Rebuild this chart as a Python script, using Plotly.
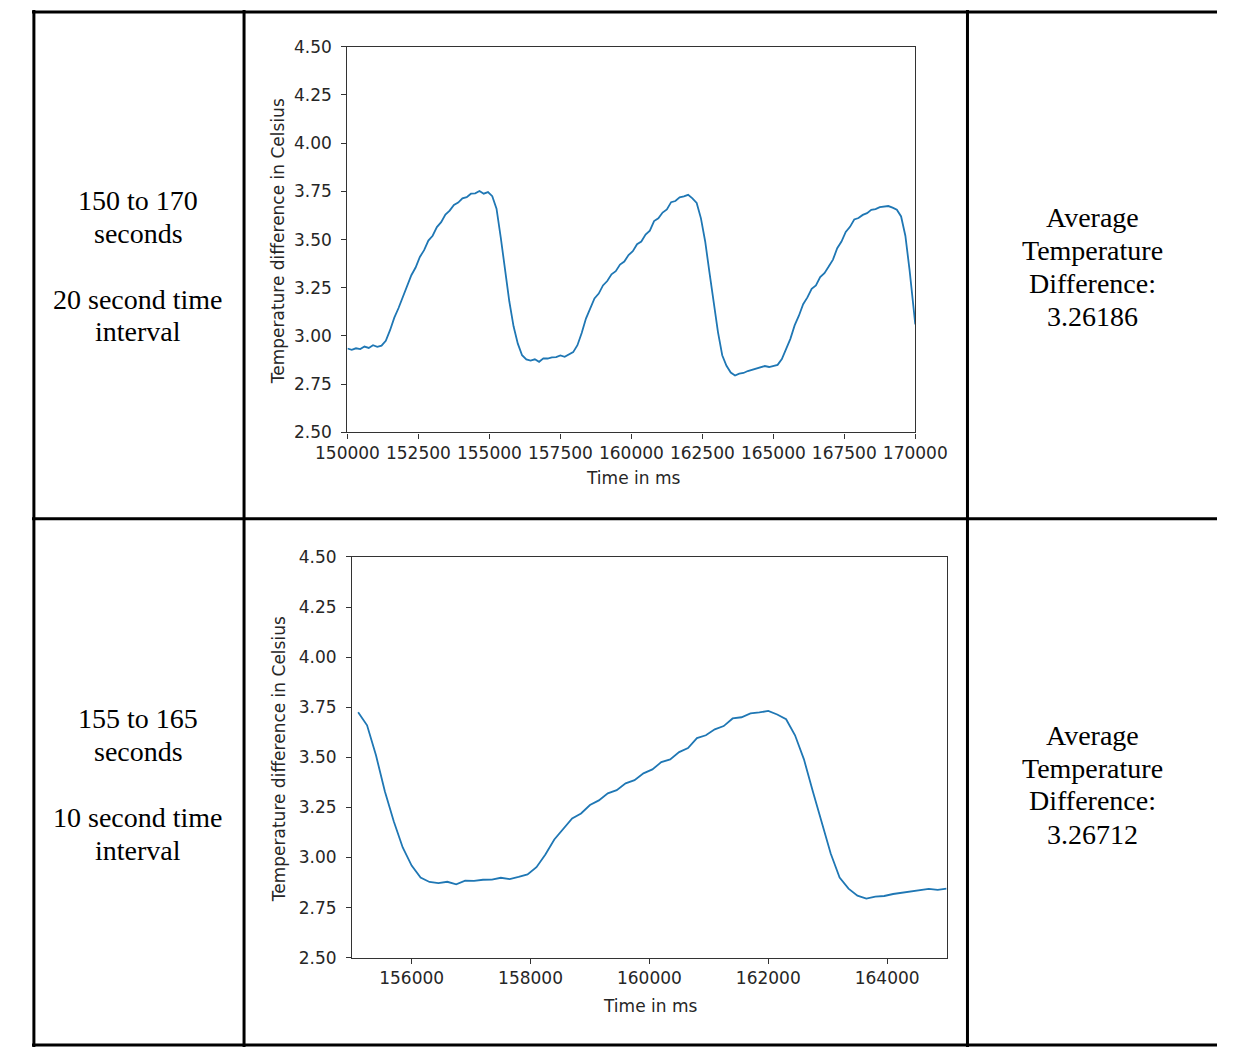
import plotly.graph_objects as go

# Temperature difference log (ms, deg C)
time_ms = [
    150000, 150150, 150300, 150450, 150600, 150750, 150900, 151050, 151200, 151350,
    151500, 151650, 151800, 151950, 152100, 152250, 152400, 152550, 152700, 152850,
    153000, 153150, 153300, 153450, 153600, 153750, 153900, 154050, 154200, 154350,
    154500, 154650, 154800, 154950, 155100, 155250, 155400, 155550, 155700, 155850,
    156000, 156150, 156300, 156450, 156600, 156750, 156900, 157050, 157200, 157350,
    157500, 157650, 157800, 157950, 158100, 158250, 158400, 158550, 158700, 158850,
    159000, 159150, 159300, 159450, 159600, 159750, 159900, 160050, 160200, 160350,
    160500, 160650, 160800, 160950, 161100, 161250, 161400, 161550, 161700, 161850,
    162000, 162150, 162300, 162450, 162600, 162750, 162900, 163050, 163200, 163350,
    163500, 163650, 163800, 163950, 164100, 164250, 164400, 164550, 164700, 164850,
    165000, 165150, 165300, 165450, 165600, 165750, 165900, 166050, 166200, 166350,
    166500, 166650, 166800, 166950, 167100, 167250, 167400, 167550, 167700, 167850,
    168000, 168150, 168300, 168450, 168600, 168750, 168900, 169050, 169200, 169350,
    169500, 169650, 169800, 169950, 170000,
]
temp_diff = [
    2.935, 2.928, 2.936, 2.932, 2.945, 2.938, 2.952, 2.944, 2.950, 2.975,
    3.030, 3.095, 3.145, 3.205, 3.255, 3.315, 3.355, 3.410, 3.445, 3.495,
    3.520, 3.565, 3.590, 3.630, 3.650, 3.680, 3.692, 3.714, 3.720, 3.738,
    3.740, 3.752, 3.738, 3.746, 3.725, 3.660, 3.510, 3.330, 3.180, 3.050,
    2.960, 2.900, 2.878, 2.872, 2.879, 2.866, 2.884, 2.883, 2.889, 2.890,
    2.899, 2.892, 2.903, 2.916, 2.952, 3.015, 3.090, 3.140, 3.195, 3.220,
    3.262, 3.285, 3.320, 3.336, 3.370, 3.386, 3.420, 3.440, 3.476, 3.490,
    3.526, 3.546, 3.596, 3.610, 3.640, 3.656, 3.694, 3.700, 3.719, 3.724,
    3.732, 3.714, 3.690, 3.610, 3.490, 3.330, 3.170, 3.020, 2.900, 2.845,
    2.810, 2.795, 2.805, 2.808, 2.818, 2.824, 2.833, 2.836, 2.844, 2.839,
    2.845, 2.850, 2.880, 2.935, 2.985, 3.055, 3.105, 3.165, 3.200, 3.245,
    3.262, 3.305, 3.326, 3.360, 3.396, 3.455, 3.490, 3.540, 3.566, 3.604,
    3.612, 3.628, 3.637, 3.654, 3.658, 3.668, 3.670, 3.674, 3.666, 3.655,
    3.620, 3.520, 3.340, 3.120, 3.060,
]

y_ticks = [2.50, 2.75, 3.00, 3.25, 3.50, 3.75, 4.00, 4.25, 4.50]
y_tick_text = ["2.50", "2.75", "3.00", "3.25", "3.50", "3.75", "4.00", "4.25", "4.50"]
x_ticks_top = [150000, 152500, 155000, 157500, 160000, 162500, 165000, 167500, 170000]
x_ticks_bottom = [156000, 158000, 160000, 162000, 164000]

left_cells = [
    ["150 to 170", "seconds", "20 second time", "interval"],
    ["155 to 165", "seconds", "10 second time", "interval"],
]
right_cells = [
    ["Average", "Temperature", "Difference:", "3.26186"],
    ["Average", "Temperature", "Difference:", "3.26712"],
]

W, H = 1249, 1057


def px(x):
    return x / W


def py(y):
    return 1 - y / H


window = [(t, v) for t, v in zip(time_ms, temp_diff) if 155000 <= t <= 165000]

fig = go.Figure()
fig.add_trace(go.Scatter(x=time_ms, y=temp_diff, mode="lines",
                         line=dict(color="#1f77b4", width=1.8),
                         xaxis="x", yaxis="y", showlegend=False))
fig.add_trace(go.Scatter(x=[t for t, _ in window], y=[v for _, v in window], mode="lines",
                         line=dict(color="#1f77b4", width=1.8),
                         xaxis="x2", yaxis="y2", showlegend=False))

tick_font = dict(family="DejaVu Sans", size=17, color="#262626")
axis_common = dict(showline=True, mirror=True, linecolor="#333333", linewidth=1.3,
                   ticks="outside", ticklen=5, tickwidth=1.2, tickcolor="#333333",
                   showgrid=False, zeroline=False, tickfont=tick_font)

fig.update_layout(
    width=W, height=H,
    margin=dict(l=0, r=0, t=0, b=0),
    paper_bgcolor="white", plot_bgcolor="white",
    xaxis=dict(domain=[px(332.5), px(931)], range=[150000, 170000],
               tickvals=x_ticks_top, ticktext=[str(v) for v in x_ticks_top],
               anchor="y", **axis_common),
    yaxis=dict(domain=[py(430.5), py(37.5)], range=[2.5, 4.5],
               tickvals=y_ticks, ticktext=y_tick_text, anchor="x",
               ticklabelstandoff=6, **axis_common),
    xaxis2=dict(domain=[px(337.5), px(964)], range=[155000, 165000],
                tickvals=x_ticks_bottom, ticktext=[str(v) for v in x_ticks_bottom],
                anchor="y2", **axis_common),
    yaxis2=dict(domain=[py(966), py(557.5)], range=[2.5, 4.5],
                tickvals=y_ticks, ticktext=y_tick_text, anchor="x2",
                ticklabelstandoff=6, **axis_common),
)

label_font = dict(family="DejaVu Sans", size=17, color="#262626")
annotations = [
    dict(x=px(633), y=py(477), text="Time in ms"),
    dict(x=px(651), y=py(1015), text="Time in ms"),
    dict(x=px(259), y=py(236), text="Temperature difference in Celsius", textangle=-90),
    dict(x=px(260), y=py(764), text="Temperature difference in Celsius", textangle=-90),
]
for a in annotations:
    a.update(xref="paper", yref="paper", showarrow=False, font=label_font,
             xanchor="center", yanchor="middle")

# Table cell text
cell_font = dict(family="Liberation Serif", size=28, color="black")
left_y = [[194, 228, 295, 328], [722, 756, 823, 857]]
right_y = [[211, 245, 279, 312], [739, 773, 806, 840]]
for row in range(2):
    for line, y in zip(left_cells[row], left_y[row]):
        annotations.append(dict(x=px(112), y=py(y), text=line, xref="paper", yref="paper",
                                showarrow=False, font=cell_font,
                                xanchor="center", yanchor="middle"))
    for line, y in zip(right_cells[row], right_y[row]):
        annotations.append(dict(x=px(1118), y=py(y), text=line, xref="paper", yref="paper",
                                showarrow=False, font=cell_font,
                                xanchor="center", yanchor="middle"))
fig.update_layout(annotations=annotations)

# Table grid lines
border = dict(color="black", width=3)
shapes = [
    dict(x0=px(0), x1=px(1249), y0=py(2), y1=py(2)),
    dict(x0=px(0), x1=px(1249), y0=py(518.5), y1=py(518.5)),
    dict(x0=px(0), x1=px(1249), y0=py(1055), y1=py(1055)),
    dict(x0=px(2), x1=px(2), y0=py(0), y1=py(1057)),
    dict(x0=px(223.5), x1=px(223.5), y0=py(0), y1=py(1057)),
    dict(x0=px(986), x1=px(986), y0=py(0), y1=py(1057)),
]
for s in shapes:
    s.update(type="line", xref="paper", yref="paper", line=border)
fig.update_layout(shapes=shapes)

fig.write_html(
    "out.html",
    config={"displayModeBar": False},
    post_script="document.body.style.margin='0';document.body.style.overflow='hidden';",
)
